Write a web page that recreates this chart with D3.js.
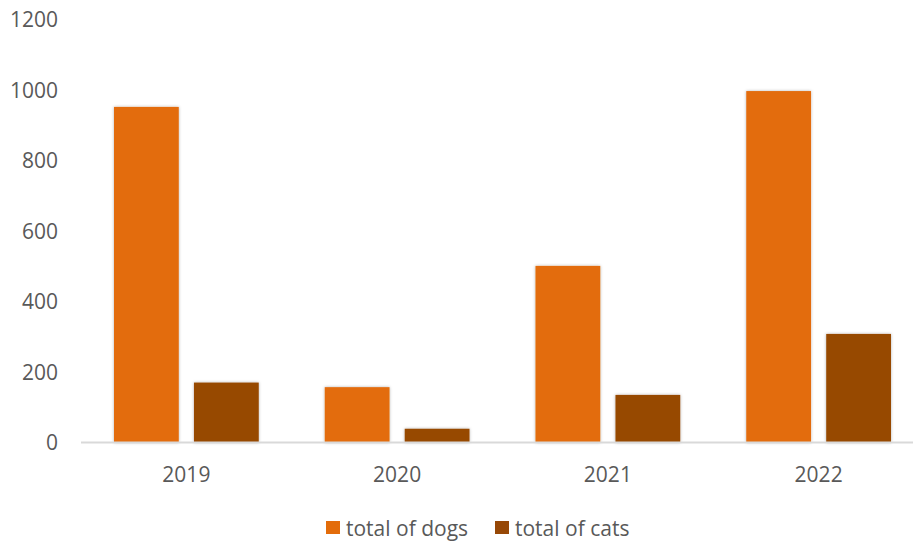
<!DOCTYPE html>
<html><head><meta charset="utf-8">
<script src="https://cdn.jsdelivr.net/npm/d3@7"></script>
<style>body{margin:0;background:#fff}svg{display:block}text{font-family:"Open Sans",sans-serif;fill:#595959}</style>
</head><body><svg id="c" width="913" height="541"></svg>
<script>
const years = ["2019","2020","2021","2022"];
const dogs = [952,157,501,997];
const cats = [170,39,135,308];
const seriesNames = ["total of dogs","total of cats"];
const colors = ["#E36C0A","#974806"];
const yTicks = [0,200,400,600,800,1000,1200];

const svg = d3.select("#c");
const defs = svg.append("defs");
const f = defs.append("filter").attr("id","sh").attr("x","-20%").attr("y","-20%").attr("width","140%").attr("height","140%");
f.append("feDropShadow").attr("dx",0).attr("dy",0).attr("stdDeviation",1.5).attr("flood-color","#000").attr("flood-opacity",0.3);

const x0 = d3.scaleBand().domain(years).range([81,924]).paddingInner(0).paddingOuter(0);
const x1 = d3.scaleBand().domain([0,1]).range([33,x0.bandwidth()-33]).paddingInner(0.19);
const y = d3.scaleLinear().domain([0,1200]).range([442.5,19.5]);

const yAxis = svg.append("g").attr("transform","translate(58,0)")
  .call(d3.axisLeft(y).tickValues(yTicks).tickFormat(d3.format("d")).tickSize(0).tickPadding(0));
yAxis.select(".domain").remove();
yAxis.selectAll("text").style("font-size","21px").attr("dy","0.35em").attr("fill","#595959");

const data = years.map((yr,i)=>({yr,vals:[dogs[i],cats[i]]}));
const g = svg.append("g").selectAll("g").data(data).join("g").attr("transform",d=>`translate(${x0(d.yr)},0)`);
g.selectAll("rect").data(d=>d.vals.map((v,k)=>({v,k}))).join("rect")
  .attr("x",d=>x1(d.k)).attr("width",x1.bandwidth())
  .attr("y",d=>y(d.v)).attr("height",d=>y(0)-y(d.v))
  .attr("fill",d=>colors[d.k]).attr("filter","url(#sh)");

svg.append("line").attr("x1",81).attr("x2",913).attr("y1",y(0)).attr("y2",y(0)).attr("stroke","#D9D9D9").attr("stroke-width",2);

const xAxis = svg.append("g").attr("transform",`translate(0,${y(0)})`)
  .call(d3.axisBottom(x0).tickSize(0).tickPadding(0));
xAxis.select(".domain").remove();
xAxis.selectAll("text").attr("dy",null).attr("y",31.5).attr("dominant-baseline","central").style("font-size","21px").attr("fill","#595959");

const legX = [326,495];
const lg = svg.append("g").selectAll("g").data(seriesNames).join("g").attr("transform",(d,i)=>`translate(${legX[i]},521)`);
lg.append("rect").attr("width",14).attr("height",13).attr("fill",(d,i)=>colors[i]);
lg.append("text").attr("x",20).attr("y",6.5).attr("dominant-baseline","central").style("font-size","21px").text(d=>d);
</script></body></html>
